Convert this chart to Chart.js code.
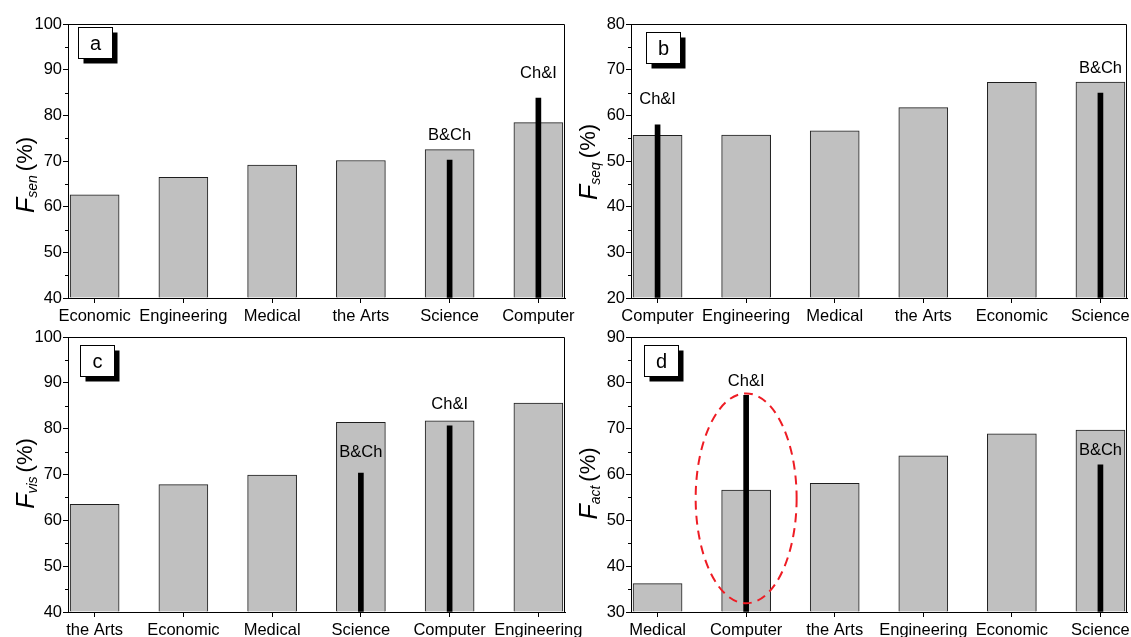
<!DOCTYPE html>
<html><head><meta charset="utf-8">
<script src="https://cdn.jsdelivr.net/npm/chart.js@4/dist/chart.umd.min.js"></script>
<style>
html,body{margin:0;padding:0;background:#fff;width:1131px;height:637px;overflow:hidden;position:relative;}
canvas{position:absolute;}
</style></head><body>
<script>
// ---------- data ----------
const catsA = ['Economic','Engineering','Medical','the Arts','Science','Computer'];
const valsA = [62.6, 66.4, 69.1, 70.1, 72.5, 78.4];
const chiA  = [null, null, null, null, null, 83.8];
const bchA  = [null, null, null, null, 70.2, null];

const catsB = ['Computer','Engineering','Medical','the Arts','Economic','Science'];
const valsB = [55.6, 55.7, 56.6, 61.7, 67.2, 67.3];
const chiB  = [57.9, null, null, null, null, null];
const bchB  = [null, null, null, null, null, 64.9];

const catsC = ['the Arts','Economic','Medical','Science','Computer','Engineering'];
const valsC = [63.5, 67.8, 69.9, 81.4, 81.7, 85.6];
const chiC  = [null, null, null, null, 80.6, null];
const bchC  = [null, null, null, 70.3, null, null];

const catsD = ['Medical','Computer','the Arts','Engineering','Economic','Science'];
const valsD = [36.2, 56.6, 58.1, 64.1, 68.9, 69.7];
const chiD  = [null, 77.3, null, null, null, null];
const bchD  = [null, null, null, null, null, 62.1];

const yRangeA = [40, 100], yRangeB = [20, 80], yRangeC = [40, 100], yRangeD = [30, 90];
const subs = ['sen', 'seq', 'vis', 'act'];
const letters = ['a', 'b', 'c', 'd'];
// highlighted group in panel d: [category position, centre value, half-width (categories), half-height (value)]
const ellipseD = [2, 54.8, 0.57, 22.9];

// ---------- layout ----------
const FONT = "'Liberation Sans', Arial, sans-serif";
Chart.defaults.font.family = FONT;
Chart.defaults.color = '#000';

const panels = [
  {cats:catsA, vals:valsA, chi:chiA, bch:bchA, yr:yRangeA, sub:subs[0], letter:letters[0],
   left:0, top:0, w:600, h:330, yW:68, xH:32, padT:24, padR:35, box:[10,3], tDy:14, gap:25},
  {cats:catsB, vals:valsB, chi:chiB, bch:bchB, yr:yRangeB, sub:subs[1], letter:letters[1],
   left:566, top:0, w:565, h:330, yW:65, xH:32, padT:24, padR:4, box:[15,8], tDy:1, gap:25},
  {cats:catsC, vals:valsC, chi:chiC, bch:bchC, yr:yRangeC, sub:subs[2], letter:letters[2],
   left:0, top:310, w:600, h:327, yW:68, xH:25, padT:27, padR:35, box:[12,8], tDy:-1, gap:21},
  {cats:catsD, vals:valsD, chi:chiD, bch:bchD, yr:yRangeD, sub:subs[3], letter:letters[3],
   left:566, top:310, w:565, h:327, yW:65, xH:25, padT:27, padR:4, box:[13,8], tDy:9, gap:14, ellipse:ellipseD}
];

function decoPlugin(p) {
  return {
    id: 'deco',
    afterDraw(chart) {
      const ctx = chart.ctx, a = chart.chartArea;
      const xs = chart.scales.x, ys = chart.scales.y;
      ctx.save();
      // frame: top and right edges (left/bottom are the axis lines)
      ctx.strokeStyle = '#000'; ctx.lineWidth = 1;
      const L = Math.round(a.left), T = Math.round(a.top) + 0.5, R = Math.round(a.right) - 0.5, B = Math.round(a.bottom);
      ctx.beginPath();
      ctx.moveTo(L, T); ctx.lineTo(R, T); ctx.lineTo(R, B);
      ctx.stroke();
      // minor y ticks
      ctx.beginPath();
      for (let v = p.yr[0] + 5; v < p.yr[1]; v += 10) {
        const y = Math.round(ys.getPixelForValue(v)) + 0.5;
        ctx.moveTo(a.left - 3, y); ctx.lineTo(a.left, y);
      }
      ctx.stroke();
      // group labels above the markers
      ctx.fillStyle = '#000';
      ctx.font = '16.5px ' + FONT;
      ctx.textAlign = 'center'; ctx.textBaseline = 'middle';
      const lab = (arr, txt) => arr.forEach((v, i) => {
        if (v == null) return;
        ctx.fillText(txt, xs.getPixelForValue(i + 1), ys.getPixelForValue(v) - p.gap);
      });
      lab(p.chi, 'Ch&I');
      lab(p.bch, 'B&Ch');
      // ellipse
      if (p.ellipse) {
        const [cx, cy, hw, hh] = p.ellipse;
        const px = xs.getPixelForValue(cx), py = ys.getPixelForValue(cy);
        const rx = Math.abs(xs.getPixelForValue(cx + hw) - px);
        const ry = Math.abs(ys.getPixelForValue(cy + hh) - py);
        ctx.beginPath();
        ctx.setLineDash([9, 6]);
        ctx.strokeStyle = '#ee1c24'; ctx.lineWidth = 2;
        ctx.ellipse(px, py, rx, ry, 0, 0, Math.PI * 2);
        ctx.stroke();
        ctx.setLineDash([]);
      }
      // panel letter box
      const bx = Math.round(a.left + p.box[0]) + 0.5, by = Math.round(a.top + p.box[1]) + 0.5;
      const bw = 34, bh = 31;
      ctx.fillStyle = '#000';
      ctx.fillRect(bx + 5, by + 5, bw, bh);
      ctx.fillStyle = '#fff';
      ctx.fillRect(bx, by, bw, bh);
      ctx.strokeStyle = '#000'; ctx.lineWidth = 1;
      ctx.strokeRect(bx, by, bw, bh);
      ctx.fillStyle = '#000';
      ctx.font = '20px ' + FONT;
      ctx.textAlign = 'center'; ctx.textBaseline = 'middle';
      ctx.fillText(p.letter, bx + bw / 2, by + bh / 2 + 1);
      // y-axis title: F_sub (%)
      const fF = 'italic 25px ' + FONT, fS = 'italic 14px ' + FONT, fP = '22px ' + FONT;
      ctx.font = fF; const wF = ctx.measureText('F').width;
      ctx.font = fS; const wS = ctx.measureText(p.sub).width;
      ctx.font = fP; const wP = ctx.measureText('(%)').width;
      const sp = 4;
      const total = wF + wS + sp + wP;
      ctx.translate(a.left - 43, (a.top + a.bottom) / 2 + p.tDy);
      ctx.rotate(-Math.PI / 2);
      ctx.textAlign = 'left'; ctx.textBaseline = 'alphabetic';
      let x0 = -total / 2;
      ctx.font = fF; ctx.fillText('F', x0, 9); x0 += wF;
      ctx.font = fS; ctx.fillText(p.sub, x0, 12); x0 += wS + sp;
      ctx.font = fP; ctx.fillText('(%)', x0, 7);
      ctx.restore();
    }
  };
}

function makeChart(p) {
  const cv = document.createElement('canvas');
  cv.width = p.w; cv.height = p.h;
  cv.style.left = p.left + 'px'; cv.style.top = p.top + 'px';
  cv.style.width = p.w + 'px'; cv.style.height = p.h + 'px';
  document.body.appendChild(cv);
  const barData = p.cats.map((c, i) => ({x: i + 1, y: p.vals[i]}));
  const lineData = [];
  p.chi.forEach((v, i) => { if (v != null) lineData.push({x: i + 1, y: v}); });
  p.bch.forEach((v, i) => { if (v != null) lineData.push({x: i + 1, y: v}); });
  new Chart(cv, {
    type: 'bar',
    data: {
      datasets: [
        {data: lineData, backgroundColor: '#000', borderWidth: 0, barThickness: 5,
         grouped: false, base: p.yr[0], order: 0},
        {data: barData, backgroundColor: '#c0c0c0', borderColor: '#1e1e1e', borderWidth: 1,
         barThickness: 49, grouped: false, base: p.yr[0], order: 1}
      ]
    },
    options: {
      responsive: false, animation: false, devicePixelRatio: 1,
      layout: {padding: {left: 0, right: p.padR, top: p.padT, bottom: 0}},
      plugins: {legend: {display: false}, tooltip: {enabled: false}},
      scales: {
        x: {
          type: 'linear', min: 0.7, max: 6.3, offset: false,
          afterBuildTicks: s => { s.ticks = p.cats.map((c, i) => ({value: i + 1})); },
          afterFit: s => { s.height = p.xH; s.paddingLeft = 0; s.paddingRight = 0; },
          ticks: {callback: v => p.cats[v - 1] ?? '', autoSkip: false, maxRotation: 0, minRotation: 0,
                  font: {size: 16.5}, color: '#000', padding: 4},
          grid: {offset: false, drawOnChartArea: false, tickLength: 5, color: '#000', tickColor: '#000'},
          border: {display: true, color: '#000', width: 1}
        },
        y: {
          min: p.yr[0], max: p.yr[1],
          afterFit: s => { s.width = p.yW; s.paddingTop = 0; s.paddingBottom = 0; },
          ticks: {stepSize: 10, font: {size: 16.5}, color: '#000', padding: 1},
          grid: {drawOnChartArea: false, tickLength: 5, color: '#000', tickColor: '#000'},
          border: {display: true, color: '#000', width: 1}
        }
      }
    },
    plugins: [decoPlugin(p)]
  });
}

panels.forEach(makeChart);
</script>
</body></html>
